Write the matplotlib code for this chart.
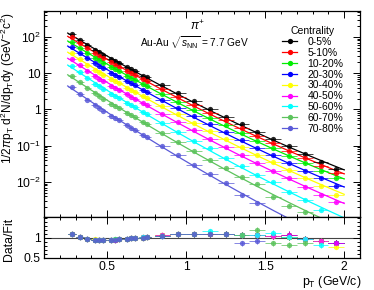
import numpy as np
import matplotlib
matplotlib.use("Agg")
import matplotlib.pyplot as plt
from matplotlib.ticker import FixedLocator, NullFormatter, FuncFormatter, MultipleLocator, LogLocator
from matplotlib.lines import Line2D

plt.rcParams['font.family'] = ['Liberation Sans', 'DejaVu Sans']
plt.rcParams['mathtext.fontset'] = 'custom'
plt.rcParams['mathtext.rm'] = 'Liberation Sans'
plt.rcParams['mathtext.it'] = 'Liberation Sans:italic'

# ---------------- data ----------------
centralities = ["0-5%", "5-10%", "10-20%", "20-30%", "30-40%", "40-50%", "50-60%", "60-70%", "70-80%"]
colors = ["#000000", "#ff0000", "#00ee00", "#0000ff", "#ffff00", "#ff00ff", "#00ffff", "#5cc35c", "#5a5ad8"]

pt = [0.275, 0.325, 0.375, 0.425, 0.45, 0.475, 0.525, 0.55, 0.575, 0.625, 0.65, 0.675, 0.725, 0.75,
      0.85, 0.95, 1.05, 1.15, 1.25, 1.35, 1.45, 1.55, 1.65, 1.75, 1.85, 1.95]
pt_halfwidth = [0.025] * 14 + [0.05] * 12
rel_err = [0.05] * 14 + [0.06, 0.06, 0.06, 0.06, 0.07, 0.07, 0.07, 0.07, 0.08, 0.08, 0.08, 0.08]

y_0_5 = [121.4, 84.5, 59.96, 43.9, 37.6, 32.3, 24.5, 21.5, 18.9, 14.4, 12.7, 11.2, 8.59, 7.65,
         4.61, 2.81, 1.69, 1.03, 0.634, 0.387, 0.241, 0.150, 0.0995, 0.0582, 0.0363, 0.0232]
y_5_10 = [98.6, 68.5, 48.6, 35.5, 30.4, 26.1, 19.8, 17.3, 15.2, 11.6, 10.2, 9.0, 6.90, 6.14,
          3.69, 2.24, 1.34, 0.816, 0.501, 0.305, 0.189, 0.117, 0.0733, 0.0453, 0.0282, 0.0180]
y_10_20 = [73.2, 50.9, 36.0, 26.3, 22.5, 19.3, 14.6, 12.8, 11.2, 8.55, 7.54, 6.64, 5.09, 4.52,
           2.72, 1.65, 0.987, 0.599, 0.367, 0.223, 0.138, 0.0857, 0.0534, 0.0329, 0.0205, 0.0130]
y_20_30 = [52.95, 36.6, 25.8, 18.7, 16.0, 13.7, 10.3, 9.0, 7.88, 5.96, 5.23, 4.60, 3.50, 3.11,
           1.84, 1.11, 0.656, 0.393, 0.239, 0.143, 0.0880, 0.0539, 0.0333, 0.0203, 0.0125, 0.00785]
y_30_40 = [35.8, 24.7, 17.4, 12.6, 10.7, 9.17, 6.89, 6.02, 5.26, 3.97, 3.48, 3.06, 2.32, 2.06,
           1.22, 0.728, 0.429, 0.257, 0.155, 0.0927, 0.0566, 0.0346, 0.0212, 0.0129, 0.00790, 0.00439]
y_40_50 = [24.3, 16.6, 11.6, 8.38, 7.12, 6.07, 4.54, 3.95, 3.45, 2.59, 2.26, 1.98, 1.50, 1.32,
           0.774, 0.457, 0.267, 0.158, 0.0942, 0.0558, 0.0337, 0.0203, 0.0131, 0.00743, 0.00449, 0.00279]
y_50_60 = [15.7, 10.6, 7.30, 5.19, 4.38, 3.71, 2.73, 2.37, 2.05, 1.52, 1.32, 1.15, 0.854, 0.749,
           0.426, 0.245, 0.139, 0.0848, 0.0465, 0.0268, 0.0157, 0.00989, 0.00545, 0.00319, 0.00169]
y_60_70 = [8.43, 5.69, 3.91, 2.77, 2.34, 1.98, 1.46, 1.26, 1.09, 0.803, 0.698, 0.606, 0.450, 0.395,
           0.223, 0.128, 0.0723, 0.0414, 0.0239, 0.0137, 0.0090, 0.0039, 0.00224, 0.00145]
y_70_80 = [4.13, 2.75, 1.87, 1.31, 1.10, 0.926, 0.674, 0.579, 0.498, 0.364, 0.314, 0.271, 0.199, 0.174,
           0.0962, 0.0538, 0.0297, 0.0167, 0.00941, 0.00426, 0.0026]
spectra = [y_0_5, y_5_10, y_10_20, y_20_30, y_30_40, y_40_50, y_50_60, y_60_70, y_70_80]

# fit parameters: log10(f) = a - b*pT + c*pT^2
fit_a = [2.774, 2.687, 2.559, 2.432, 2.267, 2.111, 1.954, 1.690, 1.407]
fit_b = [2.728, 2.740, 2.746, 2.794, 2.812, 2.860, 2.980, 2.999, 3.097]
fit_c = [0.254] * 9
fit_range = (0.25, 2.0)


def fit_func(u, a, b, c):
    return 10.0 ** (a - b * u + c * u * u)


# ---------------- figure ----------------
W, H = 374, 290
fig = plt.figure(figsize=(W / 100, H / 100), dpi=100)
ax = fig.add_axes([44 / W, 1 - 217 / H, 316 / W, 206 / H])
axr = fig.add_axes([44 / W, 1 - 258 / H, 316 / W, 41 / H], sharex=ax)

uu = np.linspace(fit_range[0], fit_range[1], 300)
for i in range(len(centralities)):
    n = len(spectra[i])
    x = np.array(pt[:n])
    y = np.array(spectra[i])
    xe = np.array(pt_halfwidth[:n])
    ye = y * np.array(rel_err[:n])
    col = colors[i]
    ax.plot(uu, fit_func(uu, fit_a[i], fit_b[i], fit_c[i]), color=col, lw=0.9, zorder=2)
    ax.errorbar(x, y, xerr=xe, yerr=ye, fmt='o', color=col, ms=3.8, mew=0,
                ecolor=col, elinewidth=0.6, capsize=0, alpha=0.85, zorder=3)
    f = fit_func(x, fit_a[i], fit_b[i], fit_c[i])
    r = y / f
    axr.errorbar(x, r, xerr=xe, yerr=r * np.array(rel_err[:n]), fmt='o', color=col, ms=3.8, mew=0,
                 ecolor=col, elinewidth=0.6, capsize=0, alpha=0.85, zorder=3)

axr.axhline(1.0, color='#444444', lw=0.8, zorder=1)

ax.set_yscale('log')
ax.set_xlim(0.1, 2.1)
ax.set_ylim(1.08e-3, 521)
axr.set_ylim(0.5, 1.52)


def logfmt(v, pos):
    e = int(round(np.log10(v)))
    if e == 0:
        return "1"
    if e == 1:
        return "10"
    return r"$10^{%d}$" % e


ax.yaxis.set_major_locator(FixedLocator([1e-2, 1e-1, 1, 10, 100]))
ax.yaxis.set_major_formatter(FuncFormatter(logfmt))
ax.yaxis.set_minor_locator(LogLocator(base=10, subs=np.arange(2, 10), numticks=20))
ax.yaxis.set_minor_formatter(NullFormatter())

for a_ in (ax, axr):
    a_.xaxis.set_major_locator(FixedLocator([0.5, 1.0, 1.5, 2.0]))
    a_.xaxis.set_minor_locator(MultipleLocator(0.1))
    a_.tick_params(which='both', direction='in', top=True, right=True, labelsize=8.7, width=0.7, pad=2.5)
    a_.tick_params(which='major', length=5)
    a_.tick_params(which='minor', length=2.5)
    for s in a_.spines.values():
        s.set_linewidth(0.9)
plt.setp(ax.get_xticklabels(), visible=False)
axr.xaxis.set_major_formatter(FuncFormatter(lambda v, p: "%g" % v))
axr.yaxis.set_major_locator(FixedLocator([0.5, 1.0]))
axr.yaxis.set_minor_locator(MultipleLocator(0.1))
axr.yaxis.set_major_formatter(FuncFormatter(lambda v, p: "%g" % v))

fig.text(8 / W, 1 - 88 / H,
         r"1/2$\pi$p$_{\rm T}$ d$^{2}$N/dp$_{\rm T}$dy (GeV$^{-2}$c$^{2}$)",
         rotation=90, ha='center', va='center', fontsize=8.6)
fig.text(9 / W, 1 - 239 / H, "Data/Fit", rotation=90, ha='center', va='center', fontsize=8.8)
fig.text(361 / W, 1 - 274 / H, r"p$_{\rm T}$ (GeV/c)", ha='right', va='top', fontsize=8.8)

ax.text((197 - 44) / 316, (217 - 26) / 206, r"$\pi^{+}$", transform=ax.transAxes,
        ha='center', va='center', fontsize=8.5)
ax.text((194 - 44) / 316, (217 - 43) / 206, r"Au-Au $\sqrt{s_{\rm NN}}$ = 7.7 GeV", transform=ax.transAxes,
        ha='center', va='center', fontsize=7.3)

handles = [Line2D([0], [0], color=c, marker='o', ms=3.8, lw=0.9, mew=0) for c in colors]
leg = ax.legend(handles, centralities, title="Centrality", loc='upper left',
                bbox_to_anchor=((276 - 44) / 316, (217 - 20) / 206), frameon=False,
                fontsize=7.5, title_fontsize=7.5, handlelength=1.4, handletextpad=1.0,
                labelspacing=0.08, borderpad=0.1)

fig.savefig("out.png", dpi=100)
